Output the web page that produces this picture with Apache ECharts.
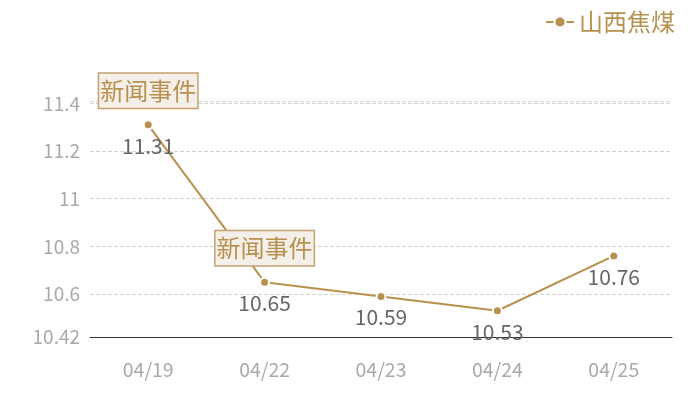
<!DOCTYPE html>
<html><head><meta charset="utf-8">
<script src="https://cdn.jsdelivr.net/npm/echarts@6/dist/echarts.min.js"></script>
<style>html,body{margin:0;padding:0;background:#fff}#c{width:700px;height:400px}</style>
</head><body><div id="c"></div>
<script>
var categories = ['04/19','04/22','04/23','04/24','04/25'];
var values = [11.31, 10.65, 10.59, 10.53, 10.76];
var seriesName = '山西焦煤';
var eventIndices = [0, 1];
var eventLabel = '新闻事件';
var yMin = 10.42, yMax = 11.41;

var gold = '#b8914e';
var font = 'Noto Sans CJK SC';
var chart = echarts.init(document.getElementById('c'));
chart.setOption({
  animation: false,
  legend: {
    right: 20, top: 5, itemWidth: 28, itemHeight: 14, itemGap: 6,
    textStyle: { color: gold, fontSize: 24, fontFamily: font },
    data: [seriesName]
  },
  grid: { left: 90, right: 28, top: 101, bottom: 63 },
  xAxis: {
    type: 'category', data: categories, boundaryGap: true,
    axisLine: { lineStyle: { color: '#333' } },
    axisTick: { show: false },
    axisLabel: { color: '#aaa', fontSize: 19.5, fontFamily: font, margin: 23 }
  },
  yAxis: {
    type: 'value', min: yMin, max: yMax,
    axisLine: { show: false }, axisTick: { show: false },
    axisLabel: { color: '#aaa', fontSize: 19, fontFamily: font, margin: 10, showMaxLabel: false },
    splitLine: { lineStyle: { color: '#d4d4d4', type: 'dashed' } }
  },
  series: [{
    name: seriesName, type: 'line', data: values,
    symbol: 'circle', symbolSize: 9,
    lineStyle: { color: gold, width: 2 },
    itemStyle: { color: gold, borderColor: '#fff', borderWidth: 2 },
    label: { show: true, position: 'bottom', distance: 5, color: '#666', fontSize: 21, fontFamily: font },
    markPoint: {
      symbol: 'rect', symbolSize: 1,
      itemStyle: { color: 'rgba(0,0,0,0)' },
      label: {
        show: true, formatter: eventLabel, color: gold, fontSize: 24, fontFamily: font,
        backgroundColor: '#f4efe9', borderColor: '#c4a170', borderWidth: 1.5,
        padding: [5, 1, 5, 1], offset: [0, -34]
      },
      data: eventIndices.map(function (i) { return { coord: [categories[i], values[i]] }; })
    }
  }]
});
</script></body></html>
